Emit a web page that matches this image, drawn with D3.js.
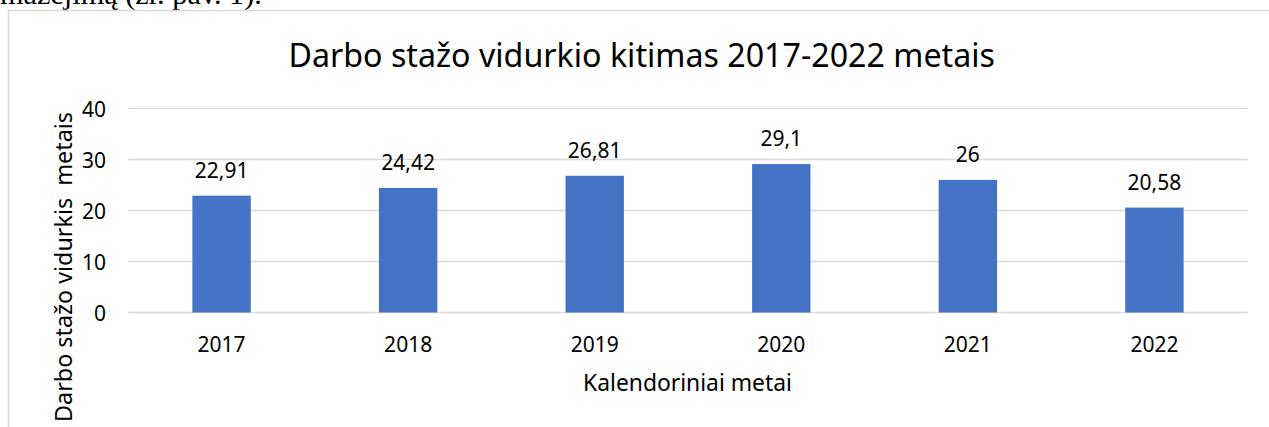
<!DOCTYPE html>
<html>
<head>
<meta charset="utf-8">
<script src="https://cdn.jsdelivr.net/npm/d3@7"></script>
<style>
  body { margin: 0; background: #fff; overflow: hidden; }
  text { font-family: "Noto Sans", sans-serif; fill: #000; }
</style>
</head>
<body>
<div id="chart"></div>
<script>
// data
let years = ["2017", "2018", "2019", "2020", "2021", "2022"];
let values = [22.91, 24.42, 26.81, 29.1, 26, 20.58];
let yTicks = [0, 10, 20, 30, 40];

let chartTitle = "Darbo stažo vidurkio kitimas 2017-2022 metais";
let xTitle = "Kalendoriniai metai";
let yTitle = "Darbo stažo vidurkis\u00a0 metais";
let pageText = "mažėjimą (žr. pav. 1).";

let width = 1269;
let height = 427;

let svg = d3.select("#chart")
    .append("svg")
    .attr("width", width)
    .attr("height", height);

// shrink/grow font size so the text fills a given width
function fitWidth(sel, target) {
    let fs = parseFloat(sel.style("font-size"));
    let w = sel.node().getComputedTextLength();
    sel.style("font-size", (fs * target / w) + "px");
}

// piece of document text above the chart (cut off at the top)
let pt = svg.append("text")
    .attr("x", 0)
    .attr("y", 4)
    .style("font-family", "'Liberation Serif', 'Times New Roman', serif")
    .style("font-size", "26px")
    .text(pageText);
fitWidth(pt, 262);

// chart frame
svg.append("rect")
    .attr("x", 8.5)
    .attr("y", 10.5)
    .attr("width", 1300)
    .attr("height", 500)
    .attr("fill", "none")
    .attr("stroke", "#d9d9d9")
    .attr("stroke-width", 1.5);

let x = d3.scaleBand()
    .domain(years)
    .range([128.3, 1247.7])
    .paddingInner(0.687)
    .paddingOuter(0.3435);

let y = d3.scaleLinear()
    .domain([0, 40])
    .range([312.5, 108.5]);

// gridlines
svg.append("g")
    .selectAll("line")
    .data(yTicks)
    .enter()
    .append("line")
    .attr("x1", 128.3)
    .attr("x2", 1247.7)
    .attr("y1", d => y(d))
    .attr("y2", d => y(d))
    .attr("stroke", "#d9d9d9")
    .attr("stroke-width", 1.5);

// y axis labels
let yAxis = svg.append("g")
    .attr("transform", "translate(106,0)")
    .call(d3.axisLeft(y).tickValues(yTicks).tickSize(0).tickPadding(0));
yAxis.select(".domain").remove();
yAxis.selectAll("text")
    .style("font-family", "'Noto Sans', sans-serif")
    .style("font-size", "21px")
    .attr("fill", "#000")
    .attr("dy", "0.36em");

// x axis labels
let xAxis = svg.append("g")
    .attr("transform", "translate(0,312.5)")
    .call(d3.axisBottom(x).tickSize(0).tickPadding(0));
xAxis.select(".domain").remove();
xAxis.selectAll("text")
    .style("font-family", "'Noto Sans', sans-serif")
    .style("font-size", "21px")
    .attr("fill", "#000")
    .attr("dy", null)
    .attr("y", 39);

// bars
let bars = svg.selectAll(".bar")
    .data(values)
    .enter()
    .append("g");

bars.append("rect")
    .attr("x", (d, i) => x(years[i]))
    .attr("y", d => y(d))
    .attr("width", x.bandwidth())
    .attr("height", d => y(0) - y(d))
    .attr("fill", "#4472c4");

bars.append("text")
    .attr("x", (d, i) => x(years[i]) + x.bandwidth() / 2)
    .attr("y", d => y(d) - 18)
    .attr("text-anchor", "middle")
    .style("font-size", "21px")
    .text(d => String(d).replace(".", ","));

// title
let t = svg.append("text")
    .attr("x", 641.7)
    .attr("y", 66.7)
    .attr("text-anchor", "middle")
    .style("font-size", "30px")
    .text(chartTitle);
fitWidth(t, 707);

// axis titles
let xt = svg.append("text")
    .attr("x", 687.5)
    .attr("y", 391)
    .attr("text-anchor", "middle")
    .style("font-size", "21px")
    .text(xTitle);
fitWidth(xt, 209);

let yt = svg.append("text")
    .attr("transform", "translate(71.7,267) rotate(-90)")
    .attr("text-anchor", "middle")
    .style("font-size", "21px")
    .text(yTitle);
fitWidth(yt, 310);
</script>
</body>
</html>
